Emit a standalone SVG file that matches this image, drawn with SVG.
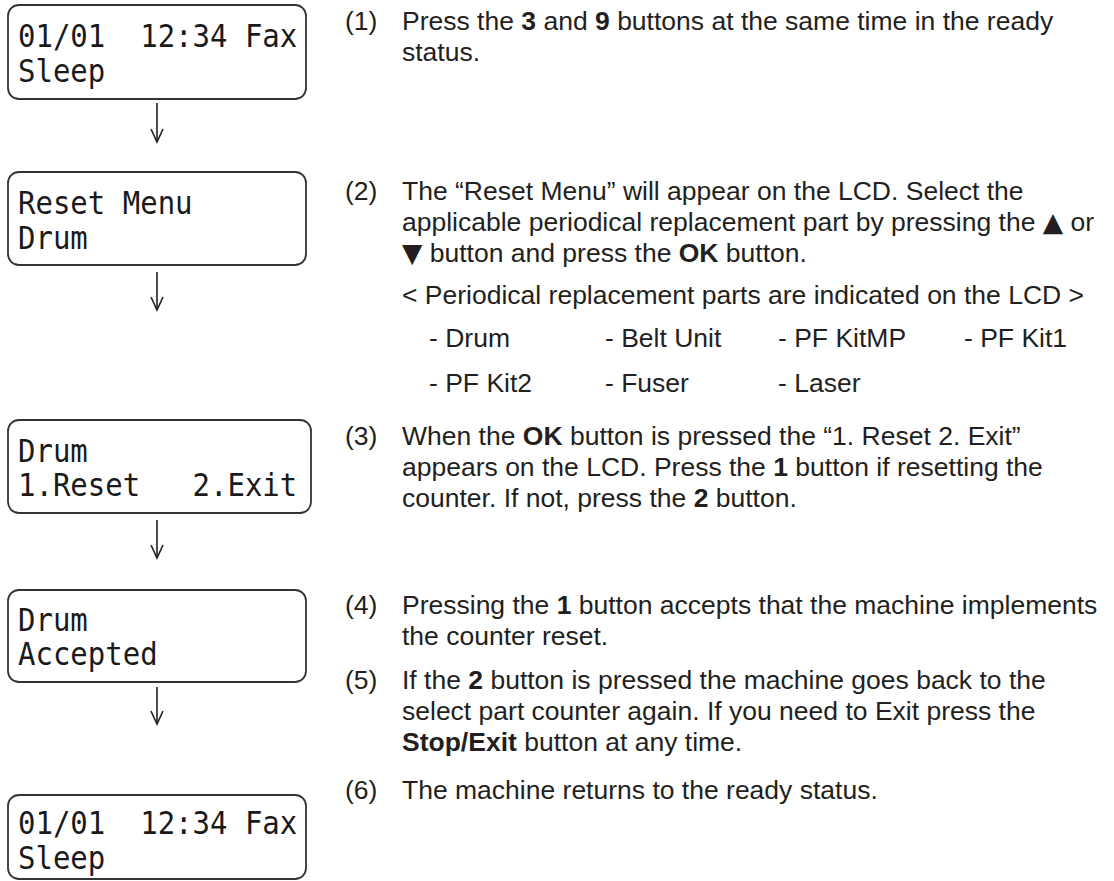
<svg xmlns="http://www.w3.org/2000/svg" width="1114" height="881" viewBox="0 0 1114 881">
  <style>
    .box { fill: #ffffff; stroke: #333333; stroke-width: 1.8; }
    .lcd { font-family: "DejaVu Sans Mono", "Liberation Mono", monospace; font-size: 29px; fill: #1a1a1a; white-space: pre; }
    .t { font-family: "Liberation Sans", Arial, sans-serif; font-size: 26.5px; fill: #231f20; white-space: pre; }
    .b { font-weight: bold; }
    .sym { font-family: "DejaVu Sans", sans-serif; }
    .conn { stroke: #222222; stroke-width: 1.6; fill: none; }
  </style>
  <defs>
    <marker id="arr" viewBox="0 0 16 14" refX="14" refY="7" markerWidth="16" markerHeight="14" markerUnits="userSpaceOnUse" orient="auto">
      <path d="M1,1 L14,7 L1,13" fill="none" stroke="#222222" stroke-width="1.6"/>
    </marker>
  </defs>
  <rect width="1114" height="881" fill="#ffffff"/>

  <g id="lcd1">
    <rect class="box" x="8" y="5" width="298" height="94" rx="11"/>
    <text class="lcd" xml:space="preserve" transform="translate(18,47) scale(1,1.08)">01/01  12:34 Fax</text>
    <text class="lcd" xml:space="preserve" transform="translate(18,82) scale(1,1.08)">Sleep</text>
  </g>
  <g id="lcd2">
    <rect class="box" x="8" y="172" width="298" height="93" rx="11"/>
    <text class="lcd" xml:space="preserve" transform="translate(18,214) scale(1,1.08)">Reset Menu</text>
    <text class="lcd" xml:space="preserve" transform="translate(18,249) scale(1,1.08)">Drum</text>
  </g>
  <g id="lcd3">
    <rect class="box" x="8" y="420" width="303" height="93" rx="11"/>
    <text class="lcd" xml:space="preserve" transform="translate(18,462) scale(1,1.08)">Drum</text>
    <text class="lcd" xml:space="preserve" transform="translate(18,496) scale(1,1.08)">1.Reset   2.Exit</text>
  </g>
  <g id="lcd4">
    <rect class="box" x="8" y="590" width="298" height="92" rx="11"/>
    <text class="lcd" xml:space="preserve" transform="translate(18,631) scale(1,1.08)">Drum</text>
    <text class="lcd" xml:space="preserve" transform="translate(18,665) scale(1,1.08)">Accepted</text>
  </g>
  <g id="lcd5">
    <rect class="box" x="8" y="795" width="298" height="84" rx="11"/>
    <text class="lcd" xml:space="preserve" transform="translate(18,834) scale(1,1.08)">01/01  12:34 Fax</text>
    <text class="lcd" xml:space="preserve" transform="translate(18,869) scale(1,1.08)">Sleep</text>
  </g>

  <g id="connectors">
    <line class="conn" x1="157" y1="103" x2="157" y2="142" marker-end="url(#arr)"/>
    <line class="conn" x1="157" y1="272" x2="157" y2="310" marker-end="url(#arr)"/>
    <line class="conn" x1="157" y1="520" x2="157" y2="558" marker-end="url(#arr)"/>
    <line class="conn" x1="157" y1="687" x2="157" y2="724" marker-end="url(#arr)"/>
  </g>

  <g id="step1">
    <text class="t" x="345" y="30">(1)</text>
    <text class="t" x="402" y="30">Press the <tspan class="b">3</tspan> and <tspan class="b">9</tspan> buttons at the same time in the ready</text>
    <text class="t" x="402" y="61">status.</text>
  </g>
  <g id="step2">
    <text class="t" x="345" y="200">(2)</text>
    <text class="t" x="402" y="200">The “Reset Menu” will appear on the LCD. Select the</text>
    <text class="t" x="402" y="231">applicable periodical replacement part by pressing the <tspan class="sym">▲</tspan> or</text>
    <text class="t" x="402" y="262"><tspan class="sym">▼</tspan> button and press the <tspan class="b">OK</tspan> button.</text>
    <text class="t" x="402" y="304">&lt; Periodical replacement parts are indicated on the LCD &gt;</text>
    <text class="t" x="429" y="347">- Drum</text>
    <text class="t" x="605" y="347">- Belt Unit</text>
    <text class="t" x="778" y="347">- PF KitMP</text>
    <text class="t" x="964" y="347">- PF Kit1</text>
    <text class="t" x="429" y="392">- PF Kit2</text>
    <text class="t" x="605" y="392">- Fuser</text>
    <text class="t" x="778" y="392">- Laser</text>
  </g>
  <g id="step3">
    <text class="t" x="345" y="445">(3)</text>
    <text class="t" x="402" y="445">When the <tspan class="b">OK</tspan> button is pressed the “1. Reset 2. Exit”</text>
    <text class="t" x="402" y="476">appears on the LCD. Press the <tspan class="b">1</tspan> button if resetting the</text>
    <text class="t" x="402" y="507">counter. If not, press the <tspan class="b">2</tspan> button.</text>
  </g>
  <g id="step4">
    <text class="t" x="345" y="614">(4)</text>
    <text class="t" x="402" y="614">Pressing the <tspan class="b">1</tspan> button accepts that the machine implements</text>
    <text class="t" x="402" y="645">the counter reset.</text>
  </g>
  <g id="step5">
    <text class="t" x="345" y="689">(5)</text>
    <text class="t" x="402" y="689">If the <tspan class="b">2</tspan> button is pressed the machine goes back to the</text>
    <text class="t" x="402" y="720">select part counter again. If you need to Exit press the</text>
    <text class="t" x="402" y="751"><tspan class="b">Stop/Exit</tspan> button at any time.</text>
  </g>
  <g id="step6">
    <text class="t" x="345" y="799">(6)</text>
    <text class="t" x="402" y="799">The machine returns to the ready status.</text>
  </g>
</svg>
